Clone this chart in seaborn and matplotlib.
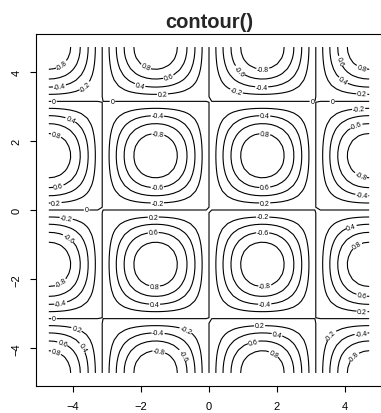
import numpy as np
import matplotlib
matplotlib.use("Agg")
import matplotlib.pyplot as plt
import seaborn as sns

# surface z = sin(x) * sin(y) over [-3pi/2, 3pi/2]^2
x_lim = 1.5 * np.pi
n_grid = 60
levels = [-0.8, -0.6, -0.4, -0.2, 0.0, 0.2, 0.4, 0.6, 0.8]
x_ticks = [-4, -2, 0, 2, 4]
y_ticks = [-4, -2, 0, 2, 4]

# where the contour labels sit
label_spots = [
    (-4.4, 4.29), (-4.4, 3.6), (-3.7, 3.65), (-1.8, 4.23), (-1.2, 3.86),
    (-2.0, 3.7), (-1.37, 3.39), (-4.56, 3.19), (-2.84, 3.19),
    (-1.52, 2.72), (-1.52, 2.1), (-4.06, 2.64), (-4.5, 2.15),
    (1.58, 4.17), (0.9, 4.03), (1.55, 3.6), (0.82, 3.48), (3.04, 3.07),
    (3.63, 3.19), (3.89, 4.32), (4.5, 4.14), (3.98, 3.8), (4.5, 3.42),
    (1.64, 2.72), (1.64, 2.14), (4.4, 2.96), (4.33, 2.43), (4.5, 1.1),
    (-4.44, 0.72), (-1.52, 0.7), (-4.5, 0.23), (-1.52, 0.23), (-3.6, 0.0),
    (-4.2, -0.23), (-4.15, -0.84), (-4.4, -2.06), (-4.36, -2.7),
    (-4.56, -3.13), (-3.9, -3.45), (-1.5, -3.6), (-0.7, -3.5),
    (-1.64, -0.2), (-1.64, -0.64), (-1.6, -2.14), (-1.6, -2.72),
    (1.64, 0.7), (1.64, 0.2), (4.5, 0.46), (1.58, -0.17), (1.58, -0.64),
    (1.64, -2.14), (1.64, -2.72), (4.18, -0.46), (4.36, -1.04),
    (4.5, -2.43), (4.5, -2.96), (1.49, -3.36), (2.0, -3.6), (3.63, -3.65),
    (4.47, -3.54), (-4.3, -3.83), (-3.7, -3.97), (-4.5, -4.12),
    (-1.49, -4.17), (-0.8, -4.22), (1.3, -3.83), (1.87, -4.22),
    (4.33, -4.32),
]

x = np.linspace(-x_lim, x_lim, n_grid)
y = np.linspace(-x_lim, x_lim, n_grid)
X, Y = np.meshgrid(x, y)
Z = np.sin(X) * np.sin(Y)

sns.set_style("ticks")
plt.rcParams['font.family'] = ['Liberation Sans', 'DejaVu Sans']

fig = plt.figure(figsize=(3.81, 4.14), dpi=100)
ax = fig.add_axes([36 / 381, 27 / 414, 346 / 381, 352 / 414])

cs = ax.contour(X, Y, Z, levels=levels, colors='black', linewidths=0.8,
                linestyles='solid')
ax.clabel(cs, inline=True, fontsize=5, fmt='%g', inline_spacing=1,
          manual=label_spots)

pad = x_lim * 0.08
ax.set_xlim(-x_lim - pad, x_lim + pad)
ax.set_ylim(-x_lim - pad, x_lim + pad)
ax.set_xticks(x_ticks)
ax.set_yticks(y_ticks)
ax.tick_params(direction='out', length=4.5, width=0.8, labelsize=8, colors='black', pad=6)
for lab in ax.get_yticklabels():
    lab.set_rotation(90)
    lab.set_va('center')
for sp in ax.spines.values():
    sp.set_color('black')
    sp.set_linewidth(0.8)

ax.set_title('contour()', fontsize=14.5, fontweight='bold', pad=5)

fig.savefig('out.png', dpi=100)
